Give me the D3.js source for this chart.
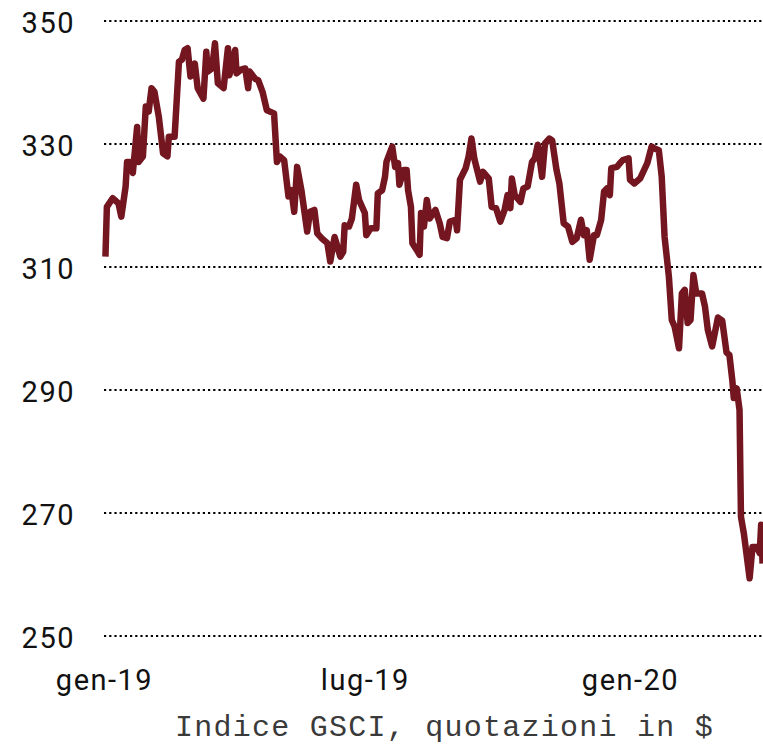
<!DOCTYPE html>
<html>
<head>
<meta charset="utf-8">
<script src="https://cdn.jsdelivr.net/npm/d3@7"></script>
<style>
  body { margin: 0; background: #fff; }
  .tick text { font-family: Roboto, "Liberation Sans", sans-serif; font-size: 29px; letter-spacing: 1.5px; fill: #111; }
  .caption { font-family: "Liberation Mono", "DejaVu Sans Mono", monospace; font-size: 30px; letter-spacing: 1.25px; fill: #3a3a3a; }
</style>
</head>
<body>
<svg id="chart"></svg>
<script>
// GSCI index
var dates = [
  '2019-01-02','2019-01-03','2019-01-07','2019-01-11','2019-01-13','2019-01-16','2019-01-17','2019-01-19','2019-01-21','2019-01-24',
  '2019-01-25','2019-01-28','2019-01-30','2019-02-01','2019-02-03','2019-02-05','2019-02-08','2019-02-11','2019-02-14','2019-02-15',
  '2019-02-19','2019-02-22','2019-02-24','2019-02-26','2019-02-28','2019-03-02','2019-03-05','2019-03-07','2019-03-11','2019-03-13',
  '2019-03-14','2019-03-17','2019-03-19','2019-03-21','2019-03-25','2019-03-28','2019-03-29','2019-04-02','2019-04-03','2019-04-06',
  '2019-04-09','2019-04-11','2019-04-12','2019-04-16','2019-04-18','2019-04-21','2019-04-24','2019-04-29','2019-05-01','2019-05-03',
  '2019-05-06','2019-05-09','2019-05-11','2019-05-13','2019-05-15','2019-05-18','2019-05-22','2019-05-24','2019-05-27','2019-05-29',
  '2019-06-01','2019-06-05','2019-06-07','2019-06-10','2019-06-14','2019-06-16','2019-06-17','2019-06-20','2019-06-22','2019-06-25',
  '2019-06-27','2019-07-01','2019-07-02','2019-07-05','2019-07-09','2019-07-10','2019-07-13','2019-07-15','2019-07-16','2019-07-20',
  '2019-07-22','2019-07-24','2019-07-25','2019-07-28','2019-07-30','2019-07-31','2019-08-02','2019-08-03','2019-08-06','2019-08-08',
  '2019-08-09','2019-08-11','2019-08-13','2019-08-15','2019-08-19','2019-08-22','2019-08-24','2019-08-27','2019-08-29','2019-09-02',
  '2019-09-03','2019-09-05','2019-09-09','2019-09-11','2019-09-13','2019-09-15','2019-09-19','2019-09-21','2019-09-25','2019-09-27',
  '2019-09-30','2019-10-03','2019-10-06','2019-10-08','2019-10-10','2019-10-11','2019-10-13','2019-10-17','2019-10-19','2019-10-22',
  '2019-10-25','2019-10-27','2019-10-29','2019-11-01','2019-11-03','2019-11-06','2019-11-08','2019-11-11','2019-11-13','2019-11-16',
  '2019-11-19','2019-11-22','2019-11-25','2019-11-28','2019-11-30','2019-12-02','2019-12-04','2019-12-07','2019-12-09','2019-12-12',
  '2019-12-14','2019-12-16','2019-12-18','2019-12-19','2019-12-23','2019-12-25','2019-12-27','2019-12-31','2020-01-01','2020-01-04',
  '2020-01-08','2020-01-13','2020-01-16','2020-01-18','2020-01-21','2020-01-23','2020-01-25','2020-01-28','2020-01-30','2020-02-01',
  '2020-02-04','2020-02-06','2020-02-08','2020-02-10','2020-02-12','2020-02-14','2020-02-16','2020-02-20','2020-02-22','2020-02-24',
  '2020-02-27','2020-03-02','2020-03-05','2020-03-08','2020-03-10','2020-03-12','2020-03-13','2020-03-15','2020-03-17','2020-03-18',
  '2020-03-20','2020-03-24','2020-03-26','2020-03-29','2020-03-31','2020-04-01','2020-04-02'
]
var values = [
  311.6, 319.7, 321.1, 320.3, 318.1, 323.0, 327.0, 327.0, 325.2, 332.7,
  327.0, 327.9, 336.0, 335.2, 339.0, 338.4, 334.4, 328.4, 327.9, 331.1,
  331.1, 343.3, 343.6, 345.2, 345.5, 340.9, 343.0, 339.0, 337.3, 344.9,
  341.7, 342.2, 346.3, 339.8, 339.0, 345.5, 341.1, 345.2, 341.4, 342.0,
  342.2, 339.0, 341.7, 340.5, 340.3, 338.4, 335.4, 334.9, 327.0, 327.9,
  327.3, 321.4, 322.4, 318.9, 326.2, 322.4, 315.7, 318.9, 319.2, 315.4,
  314.6, 313.8, 310.8, 314.8, 311.6, 312.4, 316.7, 316.5, 317.8, 323.3,
  320.8, 318.7, 315.1, 316.2, 316.2, 321.9, 322.4, 324.6, 327.0, 329.5,
  326.2, 326.8, 323.3, 325.7, 325.7, 322.4, 319.7, 313.8, 312.7, 311.9,
  318.7, 316.5, 320.8, 317.8, 319.2, 317.0, 314.8, 314.6, 317.3, 317.6,
  315.9, 324.1, 326.0, 327.9, 330.8, 327.5, 323.8, 325.4, 324.3, 319.7,
  319.5, 317.3, 319.2, 321.6, 319.5, 324.3, 321.6, 320.5, 322.7, 323.0,
  327.0, 327.6, 329.8, 324.6, 330.0, 330.8, 330.5, 325.7, 323.5, 317.0,
  316.5, 314.0, 314.6, 317.6, 315.1, 315.9, 311.1, 315.1, 315.1, 317.6,
  322.2, 322.7, 321.6, 326.0, 326.2, 326.8, 327.3, 327.6, 324.1, 323.5,
  324.3, 326.8, 329.5, 329.2, 328.9, 324.6, 314.8, 308.3, 301.3, 300.2,
  296.7, 305.6, 306.2, 300.8, 301.3, 308.6, 305.6, 305.6, 303.5, 299.7,
  297.0, 301.7, 301.2, 296.0, 295.6, 291.5, 288.6, 290.2, 286.7, 269.3,
  266.6, 259.3, 264.4, 264.4, 263.4, 268.0, 261.7
]
var yTicks = [250, 270, 290, 310, 330, 350]
var xTicks = ['2019-01-01', '2019-07-01', '2020-01-01']
var xTickLabels = ['gen-19', 'lug-19', 'gen-20']
var caption = 'Indice GSCI, quotazioni in $'

const W = 763
const H = 745
const left = 104
const right = 763
const parse = d3.timeParse('%Y-%m-%d')

var data = dates.map((d, i) => ({date: parse(d), value: values[i]}))

const svg = d3.select('#chart')
  .attr('width', W)
  .attr('height', H)

const xScale = d3.scaleTime()
  .domain([parse('2019-01-01'), parse('2020-01-01')])
  .range([left, 630])

const yScale = d3.scaleLinear()
  .domain([250, 350])
  .range([635.5, 20.5])

// y axis + dotted grid
const yAxis = svg.append('g')
  .attr('transform', `translate(${left}, 0)`)
  .call(d3.axisLeft(yScale)
    .tickValues(yTicks)
    .tickSize(-(right - left))
    .tickPadding(29)
  )
yAxis.select('.domain').remove()
yAxis.selectAll('.tick line')
  .attr('stroke', '#000')
  .attr('stroke-width', 2.2)
  .attr('stroke-dasharray', '2.2,3')
yAxis.selectAll('.tick text')
  .attr('dy', null)
  .attr('y', 11.5)

// x axis labels
const xAxis = svg.append('g')
  .attr('transform', 'translate(0, 690)')
  .call(d3.axisBottom(xScale)
    .tickValues(xTicks.map(parse))
    .tickSize(0)
    .tickFormat((d, i) => xTickLabels[i])
  )
xAxis.select('.domain').remove()
xAxis.selectAll('.tick text')
  .attr('dy', null)
  .attr('y', 0)

svg.append('clipPath')
  .attr('id', 'plotclip')
  .append('rect')
  .attr('x', 0)
  .attr('y', 0)
  .attr('width', right)
  .attr('height', H)

const line = d3.line()
  .x((d) => xScale(d.date))
  .y((d) => yScale(d.value))

svg.append('path')
  .datum(data)
  .attr('clip-path', 'url(#plotclip)')
  .attr('fill', 'none')
  .attr('stroke', '#731620')
  .attr('stroke-width', 6.5)
  .attr('stroke-linejoin', 'round')
  .attr('stroke-linecap', 'butt')
  .attr('d', line)

svg.append('text')
  .attr('class', 'caption')
  .attr('x', 175)
  .attr('y', 736)
  .text(caption)
</script>
</body>
</html>
